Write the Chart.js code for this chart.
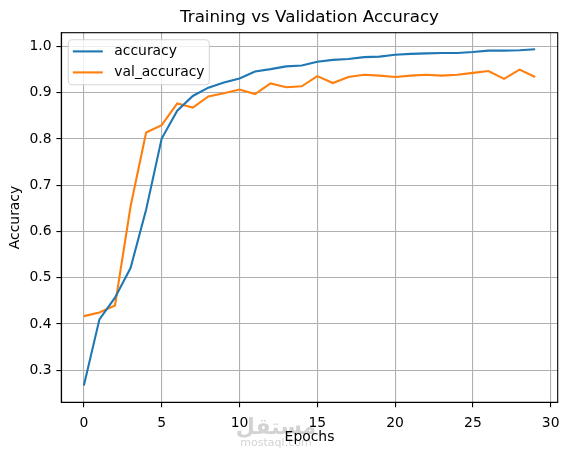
<!DOCTYPE html>
<html>
<head>
<meta charset="utf-8">
<script src="https://cdn.jsdelivr.net/npm/chart.js@4"></script>
<style>
  html, body { margin: 0; padding: 0; background: #fff; }
  #wrap { width: 569px; height: 455px; }
</style>
</head>
<body>
<div id="wrap"><canvas id="accChart" width="569" height="455"></canvas></div>
<script>
// Data
const epochs = [0,1,2,3,4,5,6,7,8,9,10,11,12,13,14,15,16,17,18,19,20,21,22,23,24,25,26,27,28,29];
const accuracy = [0.267, 0.410, 0.457, 0.521, 0.647, 0.801, 0.861, 0.893, 0.911, 0.922, 0.931, 0.946, 0.951, 0.957, 0.959,
                  0.967, 0.971, 0.973, 0.977, 0.978, 0.982, 0.984, 0.985, 0.986, 0.986, 0.988, 0.991, 0.991, 0.992, 0.994];
const valAccuracy = [0.417, 0.425, 0.440, 0.654, 0.814, 0.830, 0.877, 0.868, 0.892, 0.899, 0.907, 0.897, 0.920, 0.912, 0.914,
                     0.936, 0.921, 0.934, 0.939, 0.937, 0.934, 0.937, 0.939, 0.937, 0.939, 0.943, 0.947, 0.930, 0.950, 0.934];
const xTicks = [0, 5, 10, 15, 20, 25, 30];
const yTicks = [0.3, 0.4, 0.5, 0.6, 0.7, 0.8, 0.9, 1.0];
const chartTitle = 'Training vs Validation Accuracy';
const xLabel = 'Epochs';
const yLabel = 'Accuracy';
const watermark = ['مستقل', 'mostaql.com'];

const FONT = 'DejaVu Sans';
const toPoints = (ys) => ys.map((y, i) => ({ x: epochs[i], y: y }));

// title, frame, legend and watermark drawn matplotlib style
const mplPlugin = {
    id: 'mpl',
    beforeDraw(chart) {
        const ctx = chart.ctx;
        ctx.save();
        ctx.fillStyle = '#fff';
        ctx.fillRect(0, 0, chart.width, chart.height);
        // faint watermark
        ctx.fillStyle = 'rgba(200,200,200,0.8)';
        ctx.textAlign = 'center';
        ctx.textBaseline = 'middle';
        ctx.font = 'bold 22px "' + FONT + '"';
        ctx.fillText(watermark[0], 276, 428);
        ctx.font = '11px "' + FONT + '"';
        ctx.fillText(watermark[1], 276, 443);
        ctx.restore();
    },
    afterDraw(chart) {
        const ctx = chart.ctx;
        const ca = chart.chartArea;
        ctx.save();
        // full frame
        ctx.strokeStyle = '#000';
        ctx.lineWidth = 1.1;
        ctx.strokeRect(ca.left, ca.top, ca.right - ca.left, ca.bottom - ca.top);

        // title over the axes
        ctx.fillStyle = '#000';
        ctx.font = '16.7px "' + FONT + '"';
        ctx.textAlign = 'center';
        ctx.textBaseline = 'middle';
        ctx.fillText(chartTitle, (ca.left + ca.right) / 2, 18);

        // legend box, upper left
        const bx = ca.left + 7, by = ca.top + 7, bw = 141, bh = 45;
        ctx.beginPath();
        ctx.roundRect(bx, by, bw, bh, 4);
        ctx.fillStyle = 'rgba(255,255,255,0.8)';
        ctx.fill();
        ctx.strokeStyle = 'rgba(204,204,204,0.8)';
        ctx.lineWidth = 1.1;
        ctx.stroke();
        chart.data.datasets.forEach((ds, i) => {
            const rowY = by + 11.7 + i * 21;
            ctx.beginPath();
            ctx.moveTo(bx + 4.5, rowY);
            ctx.lineTo(bx + 34.5, rowY);
            ctx.strokeStyle = ds.borderColor;
            ctx.lineWidth = 2.1;
            ctx.stroke();
            ctx.fillStyle = '#000';
            ctx.font = '13.9px "' + FONT + '"';
            ctx.textAlign = 'left';
            ctx.textBaseline = 'middle';
            ctx.fillText(ds.label, bx + 46, rowY);
        });
        ctx.restore();
    }
};

new Chart(document.getElementById('accChart'), {
    type: 'line',
    data: {
        datasets: [{
            label: 'accuracy',
            data: toPoints(accuracy),
            borderColor: '#1f77b4',
            borderWidth: 2.1,
            pointRadius: 0,
            tension: 0,
            fill: false
        }, {
            label: 'val_accuracy',
            data: toPoints(valAccuracy),
            borderColor: '#ff7f0e',
            borderWidth: 2.1,
            pointRadius: 0,
            tension: 0,
            fill: false
        }]
    },
    options: {
        responsive: false,
        animation: false,
        layout: { padding: { top: 32.7, right: 11.3, left: 0, bottom: 0 } },
        plugins: {
            legend: { display: false },
            title: { display: false },
            tooltip: { enabled: false }
        },
        scales: {
            x: {
                type: 'linear',
                min: -1.45,
                max: 30.45,
                afterBuildTicks: (scale) => { scale.ticks = xTicks.map(v => ({ value: v })); },
                afterFit: (scale) => { scale.height = 52.7; },
                grid: { color: '#b0b0b0', lineWidth: 1.1, tickLength: 4.9, tickColor: '#000', tickWidth: 1.1 },
                border: { display: true, color: '#000', width: 1.1 },
                ticks: { color: '#000', padding: 7.5, maxRotation: 0, font: { family: FONT, size: 13.9 } },
                title: { display: true, text: xLabel, color: '#000', font: { family: FONT, size: 13.9 }, padding: { top: 2, bottom: 9.2 } }
            },
            y: {
                type: 'linear',
                min: 0.2307,
                max: 1.0298,
                afterBuildTicks: (scale) => { scale.ticks = yTicks.map(v => ({ value: v })); },
                afterFit: (scale) => { scale.width = 61.3; },
                grid: { color: '#b0b0b0', lineWidth: 1.1, tickLength: 4.9, tickColor: '#000', tickWidth: 1.1 },
                border: { display: true, color: '#000', width: 1.1 },
                ticks: { color: '#000', padding: 4.9, font: { family: FONT, size: 13.9 }, callback: (v) => v.toFixed(1) },
                title: { display: true, text: yLabel, color: '#000', font: { family: FONT, size: 13.9 }, padding: { top: 6.7, bottom: 2 } }
            }
        }
    },
    plugins: [mplPlugin]
});
</script>
</body>
</html>
